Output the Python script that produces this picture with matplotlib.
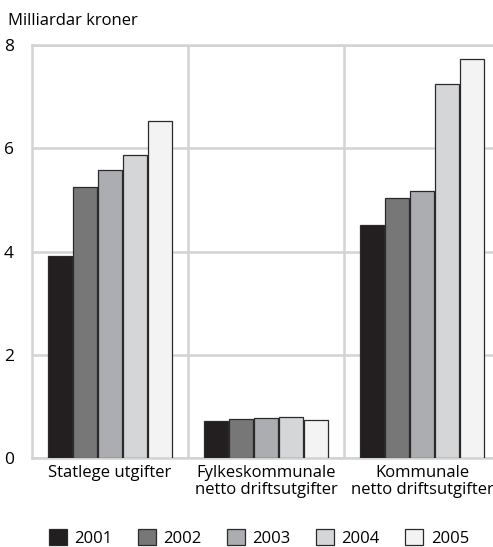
import matplotlib.pyplot as plt
import numpy as np

plt.rcParams['font.family'] = ['Open Sans', 'DejaVu Sans']

# Data
categories = ['Statlege utgifter', 'Fylkeskommunale\nnetto driftsutgifter',
              'Kommunale\nnetto driftsutgifter']
years = ['2001', '2002', '2003', '2004', '2005']
values = {
    '2001': [3.92, 0.72, 4.52],
    '2002': [5.25, 0.75, 5.04],
    '2003': [5.58, 0.78, 5.18],
    '2004': [5.87, 0.79, 7.24],
    '2005': [6.52, 0.74, 7.72],
}
colors = ['#231f20', '#777777', '#acadb0', '#d5d6d8', '#f3f3f3']

fig = plt.figure(figsize=(4.93, 5.47), dpi=100)
ax = fig.add_axes([32/493, 1 - 458/547, 468/493, 413/547])

x = np.arange(len(categories))
w = 0.16
for i, yr in enumerate(years):
    ax.bar(x + (i - 2) * w, values[yr], width=w * 0.97, color=colors[i],
           edgecolor='#2a2a2a', linewidth=0.9, label=yr, zorder=3)

ax.set_xlim(-0.5, 2.5)
ax.set_ylim(0, 8)
ax.set_yticks([0, 2, 4, 6, 8])
ax.set_xticks(x)
ax.set_xticklabels(categories, fontsize=12, linespacing=1.1)
ax.tick_params(axis='y', length=0, pad=13, labelsize=12.5)
ax.tick_params(axis='x', length=0, pad=5)

# grid: horizontal at y ticks, vertical as category separators
ax.yaxis.grid(True, color='#d3d3d3', linewidth=1.8, zorder=0)
for sep in [0.5, 1.5]:
    ax.axvline(sep, color='#d3d3d3', linewidth=1.8, zorder=0)
for s in ax.spines.values():
    s.set_color('#d3d3d3')
    s.set_linewidth(1.8)

fig.text(8/493, 1 - 21/547, 'Milliardar kroner', fontsize=12, va='center')

fig.legend(*ax.get_legend_handles_labels(), loc='center',
           bbox_to_anchor=(0.525, 1 - 538/547), ncol=5, frameon=False,
           fontsize=12, handlelength=1.1, handleheight=1.1, columnspacing=1.5,
           handletextpad=0.45, borderaxespad=0, borderpad=0)

fig.savefig('out.png', dpi=100)
